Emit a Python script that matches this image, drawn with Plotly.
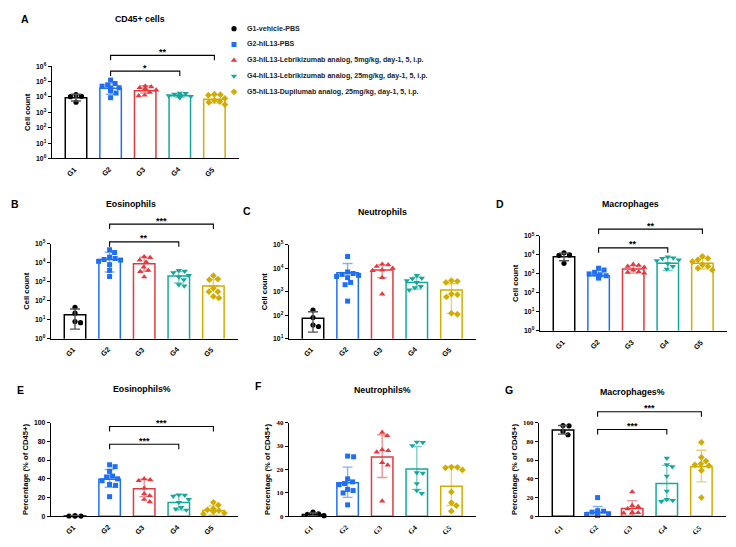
import numpy as np
import plotly.graph_objects as go

W, H = 736, 547
groups = ["G1", "G2", "G3", "G4", "G5"]
legend_names = [
    "G1-vehicle-PBS",
    "G2-hIL13-PBS",
    "G3-hIL13-Lebrikizumab analog, 5mg/kg, day-1, 5, i.p.",
    "G4-hIL13-Lebrikizumab analog, 25mg/kg, day-1, 5, i.p.",
    "G5-hIL13-Dupilumab analog, 25mg/kg, day-1, 5, i.p.",
]
colors = ["#000000", "#1F6FF5", "#E23A3F", "#14A89B", "#D3AC00"]
err_colors = ["#555555", "rgba(31,111,245,0.55)", "rgba(226,58,63,0.55)",
              "rgba(20,168,155,0.55)", "rgba(211,172,0,0.55)"]
symbols = ["circle", "square", "triangle-up", "triangle-down", "diamond"]
msizes = [5.2, 5.0, 5.6, 5.6, 5.2]

# ---------------- data ----------------
A_points = [[14000, 11000, 10500, 4600],
            [125000, 75000, 60000, 50000, 40000, 38000, 35000, 25000, 18000, 9000],
            [50000, 45000, 40000, 35000, 28000, 20000, 13000, 12000],
            [18000, 17000, 15000, 13000, 12000, 11000, 10000, 10000, 9000],
            [15000, 14000, 13000, 8000, 6000, 5000, 4500, 3200]]
A_mean = [9000, 37000, 25000, 12000, 7000]
A_hi = [15000, 78000, 53000, 15000, 14000]
A_lo = [5500, 15000, 18000, 9500, 4000]

B_points = [[45, 22, 8, 7],
            [49000, 35000, 20000, 17000, 15000, 14000, 12000, 8000, 4000, 1900],
            [21000, 19000, 14000, 11000, 6000, 4000, 3500, 1800],
            [4000, 3600, 3000, 2200, 1800, 1300, 700, 600],
            [2100, 1400, 1300, 450, 300, 300, 170, 140]]
B_mean = [18, 15000, 9000, 2000, 600]
B_hi = [37, 36000, 20000, 3500, 1300]
B_lo = [3.2, 3300, 3600, 870, 600]

C_points = [[165, 80, 38, 33],
            [32000, 7000, 6000, 5500, 5000, 4500, 4000, 2500, 2000, 400],
            [15000, 14000, 12000, 10000, 8500, 8000, 4000, 800],
            [5000, 3800, 3600, 3000, 2500, 1700, 1500, 1200],
            [3000, 2800, 2500, 800, 750, 600, 120, 110]]
C_mean = [74, 6500, 8500, 2500, 1200]
C_hi = [140, 16000, 14000, 4200, 2200]
C_lo = [19, 6500, 4000, 1300, 120]

D_points = [[13000, 10000, 9500, 3600],
            [2000, 1600, 1200, 1000, 900, 800, 750, 700, 650, 600],
            [3200, 2800, 2500, 2200, 1600, 1300, 1200, 1100],
            [8000, 7000, 6500, 5500, 5000, 3500, 2500, 1800],
            [8500, 6500, 5500, 4500, 3000, 2500, 2000, 1600]]
D_mean = [8000, 800, 1800, 3700, 3700]
D_hi = [12500, 1500, 2700, 7400, 6600]
D_lo = [4900, 800, 1100, 1500, 1800]

E_points = [[0.5, 0.3, 0.4, 0.6],
            [55, 53, 48, 43, 42, 40, 38, 34, 33, 21],
            [40, 39, 38, 30, 24, 22, 18, 15.5],
            [23, 22.5, 21.5, 18, 15, 9.5, 8, 6.7],
            [15, 12, 8, 7, 6, 5, 3.5, 2.5]]
E_mean = [0.45, 39.5, 29.5, 14.8, 6.2]
E_hi = [0.6, 50, 39.5, 23, 11]
E_lo = [0.3, 31, 21, 6.7, 1.5]

F_points = [[1.8, 1.1, 0.9, 0.3],
            [25.7, 25.4, 16, 14.7, 14, 13.5, 11.5, 11, 10, 4.9],
            [35.8, 34.4, 28.4, 28, 27.4, 22.9, 21.9, 6.5],
            [31.7, 31.5, 30.2, 18.6, 18.4, 14, 11, 9.8],
            [21, 20.9, 20.7, 19.8, 10.4, 5.8, 4.6, 2.2]]
F_mean = [0.8, 14.3, 25.3, 20.2, 12.8]
F_hi = [1.5, 21, 34.8, 29.8, 21.3]
F_lo = [0.3, 8.1, 16.6, 11.5, 4.6]

G_points = [[96.8, 96.5, 90.5, 87],
            [20, 6, 5.5, 4.5, 3.8, 3.5, 2.8, 2, 1.7, 1],
            [26, 11.6, 10.5, 8, 4.2, 3.9, 3.5, 3.5],
            [62, 55, 53, 43, 27, 18, 17, 16],
            [79, 63, 59, 56, 55, 54, 49, 20]]
G_mean = [92, 4.2, 8.4, 35, 53]
G_hi = [96.8, 10.5, 16.8, 54.4, 70.5]
G_lo = [87.7, 0, 0, 17.5, 36.8]

# ---------------- layout of panels (pixels) ----------------
panels = [
    dict(letter="A", g1=76, top=63, bot=156.5, log=True, rng=(0, 6), pts=A_points, mean=A_mean, hi=A_hi, lo=A_lo,
         title="CD45+ cells", tpos=(140, 15), lpos=(25, 15), ytitle="Cell count", serif=False,
         brackets=[(1, 3, 68, "*"), (1, 4, 52, "**")]),
    dict(letter="B", g1=75, top=243, bot=339, log=True, rng=(0, 5), pts=B_points, mean=B_mean, hi=B_hi, lo=B_lo,
         title="Eosinophils", tpos=(131, 203), lpos=(15, 203), ytitle="Cell count", serif=False,
         brackets=[(1, 3, 241, "**"), (1, 4, 223, "***")]),
    dict(letter="C", g1=313, top=244, bot=339, log=True, rng=(1, 5), pts=C_points, mean=C_mean, hi=C_hi, lo=C_lo,
         title="Neutrophils", tpos=(382, 211), lpos=(247, 210), ytitle="Cell count", serif=False,
         brackets=[]),
    dict(letter="D", g1=564, top=235, bot=331, log=True, rng=(0, 5), pts=D_points, mean=D_mean, hi=D_hi, lo=D_lo,
         title="Macrophages", tpos=(630, 203), lpos=(500, 203), ytitle="Cell count", serif=False,
         brackets=[(1, 3, 247, "**"), (1, 4, 228, "**")]),
    dict(letter="E", g1=75, top=424, bot=519, log=False, rng=(0, 100), dtick=20, pts=E_points, mean=E_mean, hi=E_hi,
         lo=E_lo, title="Eosinophils%", tpos=(142, 390), lpos=(20, 391), ytitle="Percentage (% of CD45+)",
         serif=False, brackets=[(1, 3, 446, "***"), (1, 4, 428, "***")]),
    dict(letter="F", g1=313, top=424, bot=519, log=False, rng=(0, 40), dtick=10, pts=F_points, mean=F_mean, hi=F_hi,
         lo=F_lo, title="Neutrophils%", tpos=(382, 391), lpos=(258, 387), ytitle="Percentage (% of CD45+)",
         serif=True, brackets=[]),
    dict(letter="G", g1=563, top=424, bot=519, log=False, rng=(0, 100), dtick=20, pts=G_points, mean=G_mean, hi=G_hi,
         lo=G_lo, title="Macrophages%", tpos=(632, 393), lpos=(509, 391), ytitle="Percentage (% of CD45+)",
         serif=True, brackets=[(1, 3, 431, "***"), (1, 4, 413, "***")]),
]

SP = 34.6          # px between groups
XL, XR = -0.7, 4.7  # x range in group units
SANS = "Arial, Liberation Sans, sans-serif"
SERIF = "Times New Roman, Liberation Serif, serif"


def px_x(p):
    return p / W


def px_y(p):
    return 1 - p / H


def swarm(vals, ypx, D=5.6, maxoff=11.0):
    placed, offs = [], []
    for v in vals:
        y = ypx(v)
        best = None
        for k in range(0, 60):
            for s in ([0] if k == 0 else [1, -1]):
                o = s * k * 0.5
                if abs(o) > maxoff:
                    continue
                if all((o - po) ** 2 + (y - py) ** 2 >= D * D for po, py in placed):
                    best = o
                    break
            if best is not None:
                break
        if best is None:
            best = 0.0
        placed.append((best, y))
        offs.append(best / SP)
    return offs


fig = go.Figure()
layout = dict(width=W, height=H, margin=dict(l=0, r=0, t=0, b=0), paper_bgcolor="white",
              plot_bgcolor="rgba(0,0,0,0)", showlegend=False, font=dict(family=SANS, color="black"))
annotations, shapes = [], []

for k, p in enumerate(panels):
    n = "" if k == 0 else str(k + 1)
    xa, ya = "x" + n, "y" + n
    x0 = p["g1"] + XL * SP
    x1 = p["g1"] + XR * SP
    tickfam = SERIF if p["serif"] else SANS
    xax = dict(domain=[px_x(x0), px_x(x1)], range=[XL, XR], anchor=ya, showline=True, linecolor="black",
               linewidth=1.2, ticks="", showticklabels=False, showgrid=False, zeroline=False,
               fixedrange=True)
    yax = dict(domain=[px_y(p["bot"]), px_y(p["top"])], anchor=xa, showline=True, linecolor="black",
               linewidth=1.2, ticks="outside", ticklen=3, tickwidth=1, tickcolor="black", showgrid=False,
               zeroline=False, tickfont=dict(family=tickfam, size=6.8, weight="bold"),
               title=dict(text=p["ytitle"], font=dict(family=SANS, size=7.7, weight="bold"), standoff=4))
    span = p["bot"] - p["top"]
    r0, r1 = p["rng"]
    if p["log"]:
        yax.update(type="log", range=[r0, r1],
                   tickvals=[10 ** e for e in range(r0, r1 + 1)],
                   ticktext=["10<sup>%d</sup>" % e for e in range(r0, r1 + 1)])
        ypx = lambda v, r0=r0, r1=r1, span=span: (np.log10(v) - r0) / (r1 - r0) * span
    else:
        yax.update(range=[r0, r1], dtick=p["dtick"], tick0=0)
        ypx = lambda v, r0=r0, r1=r1, span=span: (v - r0) / (r1 - r0) * span
    layout["xaxis" + n] = xax
    layout["yaxis" + n] = yax

    # rotated category labels
    for g in range(5):
        annotations.append(dict(x=g - 4 / SP, xref=xa, y=px_y(p["bot"] + 13.5), yref="paper",
                                text="<b>%s</b>" % groups[g], textangle=-45, showarrow=False,
                                font=dict(size=7.2, family=tickfam), xanchor="center", yanchor="middle"))

    # bars
    fig.add_trace(go.Bar(x=list(range(5)), y=p["mean"], width=0.62, xaxis=xa, yaxis=ya,
                         marker=dict(color="rgba(0,0,0,0)", line=dict(color=colors, width=1.5)),
                         hoverinfo="skip"))
    # points
    for g in range(5):
        vals = p["pts"][g]
        offs = swarm(vals, ypx)
        fig.add_trace(go.Scatter(x=[g + o for o in offs], y=vals, mode="markers", xaxis=xa, yaxis=ya,
                                 cliponaxis=False,
                                 marker=dict(symbol=symbols[g], color=colors[g], size=msizes[g],
                                             line=dict(width=0))))
    # error bars
    for g in range(5):
        m = p["mean"][g]
        fig.add_trace(go.Scatter(x=[g], y=[m], mode="markers", xaxis=xa, yaxis=ya, cliponaxis=False,
                                 marker=dict(opacity=0, size=1),
                                 error_y=dict(type="data", symmetric=False, array=[p["hi"][g] - m],
                                              arrayminus=[max(m - p["lo"][g], 0)], color=err_colors[g],
                                              thickness=1.4, width=5)))
    # brackets
    for (i, j, yl, txt) in p["brackets"]:
        shapes.append(dict(type="path", xref=xa, yref="paper", line=dict(color="black", width=1.1),
                           path="M %f,%f L %f,%f L %f,%f L %f,%f" % (i, px_y(yl + 5), i, px_y(yl), j, px_y(yl),
                                                                   j, px_y(yl + 5))))
        annotations.append(dict(x=(i + j) / 2, xref=xa, y=px_y(yl - 3.5), yref="paper", text="<b>%s</b>" % txt,
                                showarrow=False, font=dict(size=9, family=SANS), xanchor="center",
                                yanchor="middle"))
    # title and letter
    annotations.append(dict(x=px_x(p["tpos"][0]), y=px_y(p["tpos"][1]), xref="paper", yref="paper",
                            text="<b>%s</b>" % p["title"], showarrow=False, font=dict(size=8.8, family=SANS),
                            xanchor="center", yanchor="middle"))
    annotations.append(dict(x=px_x(p["lpos"][0]), y=px_y(p["lpos"][1]), xref="paper", yref="paper",
                            text="<b>%s</b>" % p["letter"], showarrow=False, font=dict(size=10.5, family=SANS),
                            xanchor="center", yanchor="middle"))

# legend (markers on a hidden axis, text as annotations)
LX, LT, LSTEP = 234, 25, 16
layout["xaxis8"] = dict(domain=[px_x(LX - 5), px_x(LX + 5)], range=[-1, 1], visible=False, anchor="y8")
layout["yaxis8"] = dict(domain=[px_y(LT + 4 * LSTEP), px_y(LT)], range=[4, 0], visible=False, anchor="x8")
for g in range(5):
    fig.add_trace(go.Scatter(x=[0], y=[g], mode="markers", xaxis="x8", yaxis="y8", cliponaxis=False,
                             marker=dict(symbol=symbols[g], color=colors[g], size=msizes[g])))
    annotations.append(dict(x=px_x(LX + 11), y=px_y(LT + g * LSTEP), xref="paper", yref="paper",
                            text="<b>%s</b>" % legend_names[g], showarrow=False,
                            font=dict(size=7.1, family=SANS, color="#222"), xanchor="left", yanchor="middle"))

layout["annotations"] = annotations
layout["shapes"] = shapes
fig.update_layout(**layout)
fig.write_html("out.html", config={"displayModeBar": False},
               post_script="document.body.style.margin='0px';document.body.style.overflow='hidden';")
